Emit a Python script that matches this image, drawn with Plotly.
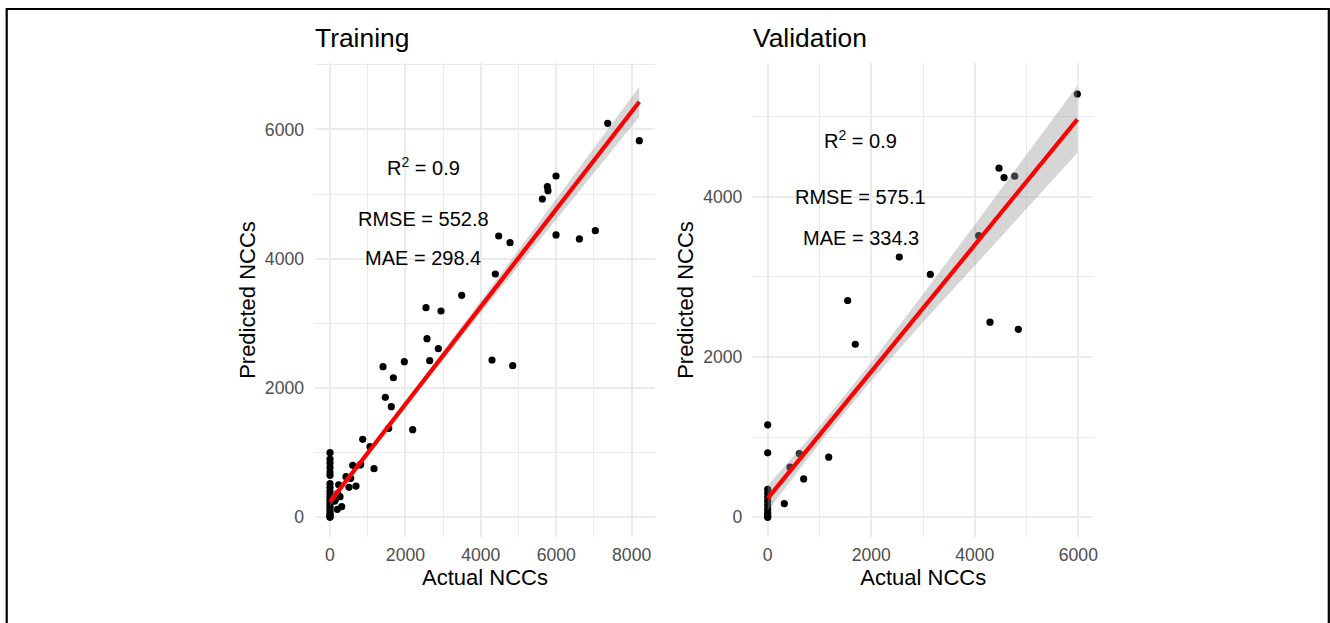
import plotly.graph_objects as go

# ---------------- Data ----------------
train_actual = [0, 0, 0, 0, 0, 0, 0, 0, 0, 0, 0, 0, 0, 0, 0, 0, 0, 0, 0, 0,
                194, 310, 204, 265, 230, 120, 150, 504, 690, 424, 549, 602, 796, 814,
                867, 1061, 1167, 1557, 2193, 1467, 1626, 1406, 1680, 1971,
                2644, 2873, 2573, 2546, 2944, 3493, 4297, 4846, 4385, 4474,
                4775, 5995, 6614, 7038, 5632, 5782, 5765, 5995, 7366, 8204]
train_pred = [1000, 900, 840, 770, 700, 650, 520, 460, 400, 350, 300, 260, 220, 180, 140, 100, 60, 30, 10, 0,
              124, 164, 371, 319, 504, 250, 280, 464, 484, 628, 603, 804, 809, 820,
              1206, 1092, 752, 1377, 1355, 1856, 1711, 2330, 2159, 2407,
              2423, 2608, 2763, 3242, 3191, 3434, 2433, 2345, 3763, 4351,
              4248, 4367, 4305, 4433, 4923, 5052, 5114, 5279, 6094, 5825]

val_actual = [0, 0, 0, 0, 0, 0, 0, 0, 0, 0, 0, 0,
              321, 431, 611, 695, 1178, 1545, 1692, 2542, 3141,
              4076, 4294, 4841, 4468, 4565, 4771, 5981]
val_pred = [1154, 804, 350, 300, 250, 200, 150, 100, 60, 30, 10, 0,
            170, 625, 795, 479, 750, 2704, 2158, 3245, 3029,
            3512, 2433, 2345, 4354, 4237, 4254, 5279]

# fitted line and 95% band
train_fit_x = [0, 1000, 2000, 3000, 4000, 5000, 6000, 7000, 8204]
train_fit_y = [241, 995, 1749, 2503, 3257, 4011, 4765, 5519, 6428]
train_ci_lo = [171, 949, 1707, 2441, 3166, 3887, 4609, 5328, 6196]
train_ci_hi = [311, 1041, 1791, 2565, 3348, 4135, 4921, 5710, 6660]

val_fit_x = [0, 1000, 2000, 3000, 4000, 5000, 5981]
val_fit_y = [237, 1027, 1817, 2607, 3397, 4187, 4962]
val_ci_lo = [81, 922, 1702, 2432, 3144, 3851, 4542]
val_ci_hi = [393, 1132, 1932, 2782, 3650, 4523, 5382]

train_stats = ["R<sup>2</sup> = 0.9", "RMSE = 552.8", "MAE = 298.4"]
train_stats_y = [5420, 4610, 4010]
train_stats_x = 2470
val_stats = ["R<sup>2</sup> = 0.9", "RMSE = 575.1", "MAE = 334.3"]
val_stats_y = [4716, 4000, 3480]
val_stats_x = 1800

panel_titles = ["Training", "Validation"]
x_title = "Actual NCCs"
y_title = "Predicted NCCs"

FONT = "Liberation Sans, Arial, sans-serif"

fig = go.Figure()

def add_panel(xa, ya, ax, ay, fx, fy, lo, hi):
    fig.add_trace(go.Scatter(x=ax, y=ay, mode="markers",
                             marker=dict(color="black", size=7.2),
                             xaxis=xa, yaxis=ya, showlegend=False, hoverinfo="skip"))
    fig.add_trace(go.Scatter(x=fx + fx[::-1], y=hi + lo[::-1], mode="lines",
                             fill="toself", fillcolor="rgba(153,153,153,0.4)",
                             line=dict(width=0), xaxis=xa, yaxis=ya,
                             showlegend=False, hoverinfo="skip"))
    fig.add_trace(go.Scatter(x=fx, y=fy, mode="lines",
                             line=dict(color="#ff0000", width=4.2),
                             xaxis=xa, yaxis=ya, showlegend=False, hoverinfo="skip"))

add_panel("x", "y", train_actual, train_pred, train_fit_x, train_fit_y, train_ci_lo, train_ci_hi)
add_panel("x2", "y2", val_actual, val_pred, val_fit_x, val_fit_y, val_ci_lo, val_ci_hi)

grid = "#ebebeb"
tickfont = dict(family=FONT, size=17.6, color="#4d4d4d")
titlefont = dict(family=FONT, size=22, color="black")

def xax(domain, rng, anchor):
    return dict(domain=domain, range=rng, anchor=anchor, tick0=0, dtick=2000,
                showgrid=True, gridcolor=grid, gridwidth=1.6, zeroline=False,
                showline=False, ticks="", tickfont=tickfont, ticklabelstandoff=6,
                minor=dict(tick0=0, dtick=1000, showgrid=True, gridcolor=grid, gridwidth=1.1),
                title=dict(text=x_title, font=titlefont, standoff=5), automargin=False)

def yax(domain, rng, anchor):
    return dict(domain=domain, range=rng, anchor=anchor, tick0=0, dtick=2000,
                showgrid=True, gridcolor=grid, gridwidth=1.6, zeroline=False,
                showline=False, ticks="", tickfont=tickfont, ticklabelstandoff=10,
                minor=dict(tick0=0, dtick=1000, showgrid=True, gridcolor=grid, gridwidth=1.1),
                title=dict(text=y_title, font=titlefont, standoff=3), automargin=False)

ydom = [0.1385, 0.8984]
fig.update_layout(
    width=1330, height=623,
    margin=dict(l=0, r=0, t=0, b=0),
    paper_bgcolor="white", plot_bgcolor="white",
    font=dict(family=FONT, color="black"),
    xaxis=xax([315 / 1330, 655 / 1330], [-398, 8620], "y"),
    yaxis=yax(ydom, [-300, 7022], "x"),
    xaxis2=xax([753.3 / 1330, 1093.3 / 1330], [-278, 6289], "y2"),
    yaxis2=yax(ydom, [-242, 5662], "x2"),
)

ann = []
for i, t in enumerate(train_stats):
    ann.append(dict(x=train_stats_x, y=train_stats_y[i], xref="x", yref="y", text=t,
                    showarrow=False, font=dict(family=FONT, size=20, color="black"),
                    xanchor="center", yanchor="middle"))
for i, t in enumerate(val_stats):
    ann.append(dict(x=val_stats_x, y=val_stats_y[i], xref="x2", yref="y2", text=t,
                    showarrow=False, font=dict(family=FONT, size=20, color="black"),
                    xanchor="center", yanchor="middle"))
ann.append(dict(x=315 / 1330, y=1 - 38 / 623, xref="paper", yref="paper", text=panel_titles[0],
                showarrow=False, font=dict(family=FONT, size=26.4, color="black"),
                xanchor="left", yanchor="middle", xshift=-2))
ann.append(dict(x=753.3 / 1330, y=1 - 38 / 623, xref="paper", yref="paper", text=panel_titles[1],
                showarrow=False, font=dict(family=FONT, size=26.4, color="black"),
                xanchor="left", yanchor="middle", xshift=-2))
fig.update_layout(annotations=ann)

fig.add_shape(type="rect", xref="paper", yref="paper",
              x0=6.7 / 1330, x1=1328.8 / 1330, y0=-0.05, y1=1 - 9 / 623,
              line=dict(color="black", width=2.2), fillcolor="rgba(0,0,0,0)")

fig.write_html("out.html", config={"displayModeBar": False},
               post_script="document.body.style.margin='0';")
